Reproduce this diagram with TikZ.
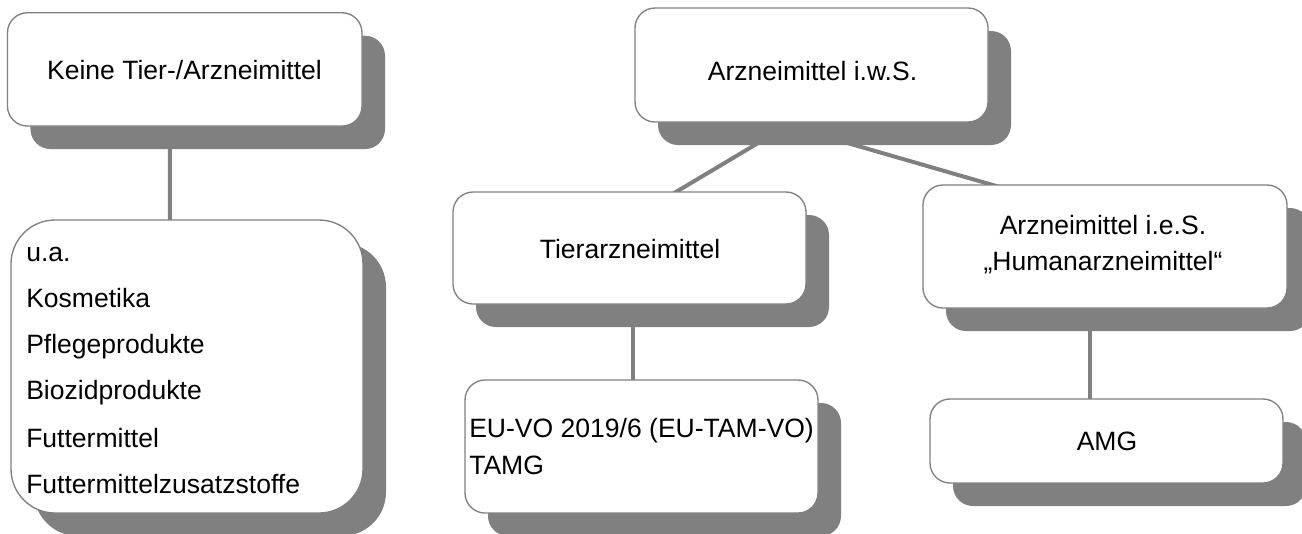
\documentclass[tikz,border=0pt]{standalone}
\usepackage{fontspec}
\setmainfont{Liberation Sans}
\usetikzlibrary{shadows,calc,backgrounds}
\definecolor{linegray}{HTML}{808080}
\tikzset{
  box/.style={draw=linegray, line width=1pt, fill=white, rounded corners=15pt,
    inner sep=0pt,
    drop shadow={shadow xshift=17.25pt, shadow yshift=-17.25pt,
      fill=linegray, opacity=1}},
  txt/.style={inner sep=0pt, font=\fontsize{19.9pt}{24pt}\selectfont, text=black},
  link/.style={draw=linegray, line width=3pt},
}
\begin{document}
\begin{tikzpicture}[x=0.75pt, y=-0.75pt]
\useasboundingbox (0,0) rectangle (1302,533);

% boxes
\node[box, minimum width=265.9pt, minimum height=85pt]    (b1) at (184.75,69.4) {};
\node[box, rounded corners=33pt, minimum width=264pt, minimum height=219.75pt] (b2) at (187,366.5) {};
\node[box, minimum width=264.75pt, minimum height=85.5pt] (b3) at (811.5,65) {};
\node[box, minimum width=264.75pt, minimum height=84pt]   (b4) at (629.5,248) {};
\node[box, minimum width=264.75pt, minimum height=99.75pt] (b5) at (641.5,446.5) {};
\node[box, minimum width=273pt, minimum height=92.25pt]   (b6) at (1105,246.5) {};
\node[box, minimum width=264.75pt, minimum height=63pt]   (b7) at (1106.5,441) {};

% texts
\node[txt, anchor=base] (t1) at (184.5,79) {Keine Tier-/Arzneimittel};
\foreach \y/\s [count=\i] in {261/u.a., 307/Kosmetika, 353/Pflegeprodukte,
    399/Biozidprodukte, 447/Futtermittel, 493/Futtermittelzusatzstoffe}
  \node[txt, anchor=base west] (l\i) at (26,\y) {\s};
\node[txt, anchor=base] (t3) at (812.5,80) {Arzneimittel i.w.S.};
\node[txt, anchor=base] (t4) at (630,258) {Tierarzneimittel};
\node[txt, anchor=base west] (t5a) at (469,437) {EU-VO 2019/6 (EU-TAM-VO)};
\node[txt, anchor=base west] (t5b) at (469,474) {TAMG};
\node[txt, anchor=base] (t6a) at (1103,234) {Arzneimittel i.e.S.};
\node[txt, anchor=base] (t6b) at (1103,270) {„Humanarzneimittel“};
\node[txt, anchor=base] (t7) at (1107,450) {AMG};

% connectors, behind the boxes and their shadows
\begin{scope}[on background layer]
  \draw[link] ($(b1.south)+(-15,-20)$) -- ($(b2.north)+(-17,20)$);
  \draw[link] ($(b4.south)+(3.5,-20)$) -- ($(b5.north)+(-8.5,20)$);
  \draw[link] ($(b6.south)+(-15,-20)$) -- ($(b7.north)+(-16.5,20)$);
  \draw[link] ($(b3.south west)+(134.4,14)$) -- ($(b4.north west)+(209.6,9)$);
  \draw[link] ($(b3.south west)+(191.2,14)$) -- ($(b6.north west)+(102.8,10)$);
\end{scope}
\end{tikzpicture}
\end{document}
